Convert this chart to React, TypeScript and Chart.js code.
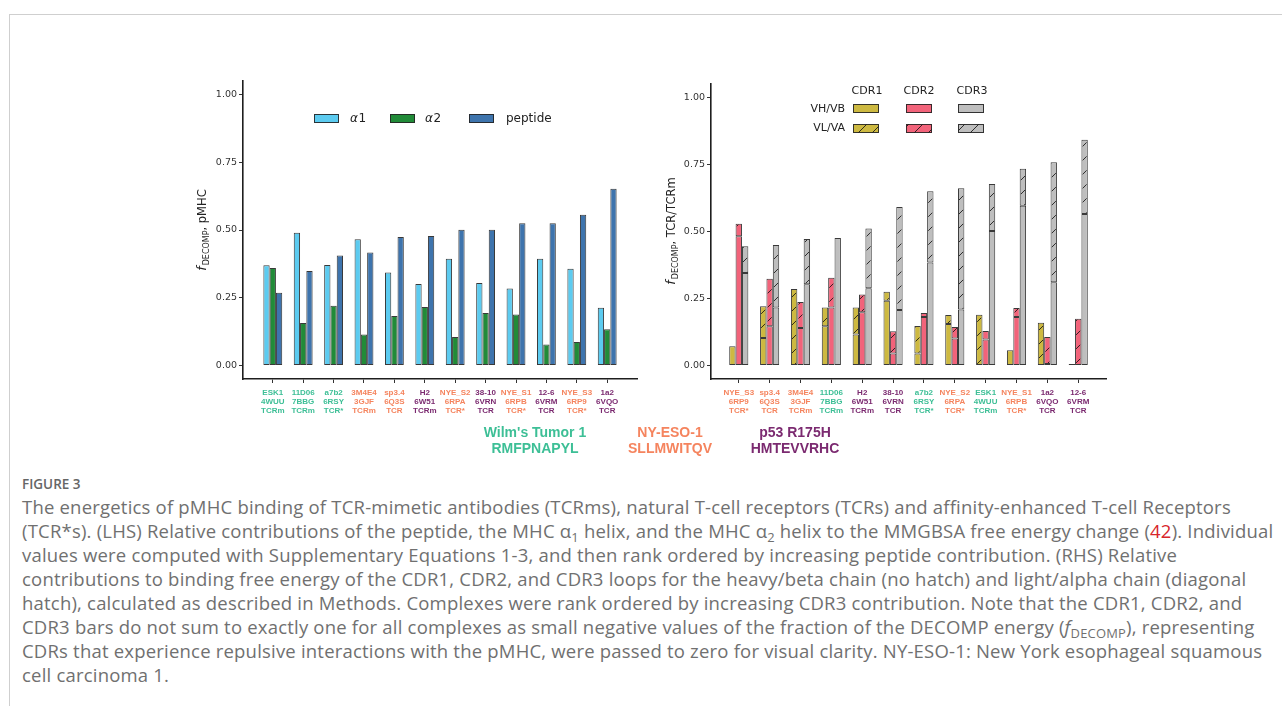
import React, { useEffect, useRef } from 'react';
import { Chart, registerables } from 'chart.js';
Chart.register(...registerables);

// ---------- data ----------
const leftNames = ['ESK1', '11D06', 'a7b2', '3M4E4', 'sp3.4', 'H2', 'NYE_S2', '38-10', 'NYE_S1', '12-6', 'NYE_S3', '1a2'];
const leftPdb = ['4WUU', '7BBG', '6RSY', '3GJF', '6Q3S', '6W51', '6RPA', '6VRN', '6RPB', '6VRM', '6RP9', '6VQO'];
const leftType = ['TCRm', 'TCRm', 'TCR*', 'TCRm', 'TCR', 'TCRm', 'TCR*', 'TCR', 'TCR*', 'TCR', 'TCR*', 'TCR'];
const leftAntigen = ['WT1', 'WT1', 'WT1', 'NY', 'NY', 'P53', 'NY', 'P53', 'NY', 'P53', 'NY', 'P53'];

const alpha1 = [0.370, 0.490, 0.371, 0.466, 0.343, 0.301, 0.394, 0.304, 0.284, 0.394, 0.357, 0.213];
const alpha2 = [0.360, 0.157, 0.220, 0.114, 0.183, 0.216, 0.105, 0.194, 0.188, 0.077, 0.087, 0.134];
const peptide = [0.268, 0.349, 0.406, 0.417, 0.474, 0.478, 0.501, 0.501, 0.525, 0.525, 0.556, 0.652];

const rightNames = ['NYE_S3', 'sp3.4', '3M4E4', '11D06', 'H2', '38-10', 'a7b2', 'NYE_S2', 'ESK1', 'NYE_S1', '1a2', '12-6'];
const rightPdb = ['6RP9', '6Q3S', '3GJF', '7BBG', '6W51', '6VRN', '6RSY', '6RPA', '4WUU', '6RPB', '6VQO', '6VRM'];
const rightType = ['TCR*', 'TCR', 'TCRm', 'TCRm', 'TCRm', 'TCR', 'TCR*', 'TCR*', 'TCRm', 'TCR*', 'TCR', 'TCR'];
const rightAntigen = ['NY', 'NY', 'NY', 'WT1', 'P53', 'P53', 'WT1', 'NY', 'WT1', 'NY', 'P53', 'P53'];

const cdr1VH = [0.072, 0.103, 0.002, 0.147, 0.116, 0.242, 0.045, 0.155, 0.000, 0.057, 0.000, 0.006];
const cdr1VL = [0.000, 0.118, 0.284, 0.070, 0.101, 0.033, 0.103, 0.034, 0.190, 0.000, 0.160, 0.000];
const cdr2VH = [0.482, 0.147, 0.140, 0.217, 0.199, 0.045, 0.181, 0.101, 0.097, 0.181, 0.006, 0.000];
const cdr2VL = [0.047, 0.177, 0.097, 0.111, 0.066, 0.083, 0.015, 0.043, 0.032, 0.034, 0.101, 0.175];
const cdr3VH = [0.345, 0.217, 0.303, 0.476, 0.288, 0.207, 0.384, 0.209, 0.502, 0.596, 0.311, 0.565];
const cdr3VL = [0.100, 0.233, 0.169, 0.000, 0.223, 0.384, 0.266, 0.452, 0.175, 0.138, 0.447, 0.277];

const yTicks = [0, 0.25, 0.5, 0.75, 1.0];

// ---------- styles ----------
const antigenColor: Record<string, string> = { WT1: '#3dbf96', NY: '#f5845e', P53: '#7b2a70' };
const C_A1 = '#5ccbf0';
const C_A2 = '#218b38';
const C_PEP = '#3e74ad';
const C_CDR1 = '#cdb941';
const C_CDR2 = '#f2637a';
const C_CDR3 = '#bebebe';
const EDGE = 'rgba(35,35,35,0.9)';
const AXFONT = '"DejaVu Sans", sans-serif';

function hatchRect(ctx: CanvasRenderingContext2D, l: number, t: number, w: number, h: number) {
  const sp = 14;
  ctx.save();
  ctx.beginPath();
  ctx.rect(l, t, w, h);
  ctx.clip();
  ctx.strokeStyle = 'rgba(20,20,20,0.95)';
  ctx.lineWidth = 0.9;
  ctx.beginPath();
  const kmin = Math.floor((l + t) / sp) - 1;
  const kmax = Math.ceil((l + w + t + h) / sp) + 1;
  for (let k = kmin; k <= kmax; k++) {
    const c = k * sp;
    ctx.moveTo(l, c - l);
    ctx.lineTo(l + w, c - l - w);
  }
  ctx.stroke();
  ctx.restore();
}

function swatch(ctx: CanvasRenderingContext2D, x: number, y: number, w: number, h: number, color: string, hatch: boolean) {
  ctx.save();
  ctx.fillStyle = color;
  ctx.fillRect(x, y, w, h);
  if (hatch) hatchRect(ctx, x, y, w, h);
  ctx.strokeStyle = EDGE;
  ctx.lineWidth = 1;
  ctx.strokeRect(x + 0.5, y + 0.5, w - 1, h - 1);
  ctx.restore();
}

function yTitle(ctx: CanvasRenderingContext2D, cx: number, cy: number, rest: string) {
  ctx.save();
  ctx.translate(cx, cy);
  ctx.rotate(-Math.PI / 2);
  ctx.fillStyle = '#222';
  ctx.textBaseline = 'alphabetic';
  const fF = `italic 12.5px ${AXFONT}`;
  const fS = `8px ${AXFONT}`;
  const fR = `11.5px ${AXFONT}`;
  ctx.font = fF; const w1 = ctx.measureText('f').width + 1;
  ctx.font = fS; const w2 = ctx.measureText('DECOMP').width;
  ctx.font = fR; const w3 = ctx.measureText(rest).width;
  let x = -(w1 + w2 + w3) / 2;
  const base = 4;
  ctx.font = fF; ctx.fillText('f', x, base); x += w1;
  ctx.font = fS; ctx.fillText('DECOMP', x, base + 3); x += w2;
  ctx.font = fR; ctx.fillText(rest, x, base);
  ctx.restore();
}

function hatchDatasets(chart: any, idx: number[]) {
  const ctx = chart.ctx as CanvasRenderingContext2D;
  for (const i of idx) {
    const meta = chart.getDatasetMeta(i);
    for (const el of meta.data) {
      const p = el.getProps(['x', 'y', 'base', 'width'], true);
      const top = Math.min(p.y, p.base);
      const h = Math.abs(p.base - p.y);
      if (h < 1) continue;
      hatchRect(ctx, p.x - p.width / 2 + 1, top + 1, p.width - 2, h - 2);
    }
  }
}

function buildAxes(labels: string[][], colors: string[], xmin: number, xmax: number, yWidth: number, xHeight: number, stackedY: boolean) {
  return {
    x: {
      type: 'linear',
      min: xmin,
      max: xmax,
      offset: false,
      afterBuildTicks: (s: any) => { s.ticks = labels.map((_, i) => ({ value: i })); },
      afterFit: (s: any) => { s.height = xHeight; },
      grid: { display: true, drawOnChartArea: false, drawTicks: true, tickLength: 4, tickColor: '#333', tickWidth: 1, offset: false },
      border: { display: true, color: '#1e1e1e', width: 1.6 },
      ticks: {
        autoSkip: false, maxRotation: 0, minRotation: 0, padding: 5,
        font: { family: '"Liberation Sans", Arial, sans-serif', size: 8, weight: 'bold', lineHeight: 1.13 },
        color: (c: any) => colors[c.index] || '#333',
        callback: (v: any) => labels[Math.round(v)] || '',
      },
    },
    y: {
      type: 'linear',
      min: -0.05,
      max: 1.05,
      stacked: stackedY,
      afterBuildTicks: (s: any) => { s.ticks = yTicks.map((v) => ({ value: v })); },
      afterFit: (s: any) => { s.width = yWidth; },
      grid: { display: true, drawOnChartArea: false, drawTicks: true, tickLength: 4, tickColor: '#333', tickWidth: 1 },
      border: { display: true, color: '#1e1e1e', width: 1.6 },
      ticks: {
        padding: 2, color: '#333',
        font: { family: AXFONT, size: 9.5 },
        callback: (v: any) => Number(v).toFixed(2),
      },
    },
  };
}

const pts = (arr: number[]) => arr.map((v, i) => ({ x: i, y: v }));

function LeftChart() {
  const ref = useRef<HTMLCanvasElement>(null);
  useEffect(() => {
    const labels = leftNames.map((n, i) => [n, leftPdb[i], leftType[i]]);
    const colors = leftAntigen.map((a) => antigenColor[a]);
    const common = { borderColor: EDGE, borderWidth: 1, borderSkipped: false, categoryPercentage: 0.62, barPercentage: 1.0 };
    const chart = new Chart(ref.current as HTMLCanvasElement, {
      type: 'bar',
      data: {
        datasets: [
          { label: 'α1', data: pts(alpha1), backgroundColor: C_A1, stack: 'a', ...common },
          { label: 'α2', data: pts(alpha2), backgroundColor: C_A2, stack: 'b', ...common },
          { label: 'peptide', data: pts(peptide), backgroundColor: C_PEP, stack: 'c', ...common },
        ],
      } as any,
      options: {
        animation: false,
        responsive: false,
        devicePixelRatio: 1,
        layout: { padding: { top: 11, right: 13, left: 0, bottom: 0 } },
        plugins: { legend: { display: false }, tooltip: { enabled: false } },
        scales: buildAxes(labels, colors, -0.98, 11.98, 63, 51, false) as any,
      },
      plugins: [{
        id: 'leftDeco',
        afterDraw(c: any) {
          const ctx = c.ctx as CanvasRenderingContext2D;
          const items = [
            { x: 134, color: C_A1, tx: 170, greek: true, text: '1' },
            { x: 210, color: C_A2, tx: 245, greek: true, text: '2' },
            { x: 289, color: C_PEP, tx: 326, greek: false, text: 'peptide' },
          ];
          for (const it of items) {
            swatch(ctx, it.x, 44, 25, 9, it.color, false);
            ctx.save();
            ctx.fillStyle = '#222';
            ctx.textBaseline = 'middle';
            let x = it.tx;
            if (it.greek) {
              ctx.font = `italic 12px ${AXFONT}`;
              ctx.fillText('α', x, 49);
              x += ctx.measureText('α').width + 0.5;
            }
            ctx.font = `12px ${AXFONT}`;
            ctx.fillText(it.text, x, 49);
            ctx.restore();
          }
          yTitle(ctx, 22, 160, ', pMHC');
        },
      }],
    } as any);
    return () => chart.destroy();
  }, []);
  return <canvas ref={ref} width={470} height={360} style={{ position: 'absolute', left: 180, top: 70 }} />;
}

function RightChart() {
  const ref = useRef<HTMLCanvasElement>(null);
  useEffect(() => {
    const labels = rightNames.map((n, i) => [n, rightPdb[i], rightType[i]]);
    const colors = rightAntigen.map((a) => antigenColor[a]);
    const common = { borderColor: EDGE, borderWidth: 1, borderSkipped: false, categoryPercentage: 0.62, barPercentage: 1.0 };
    const chart = new Chart(ref.current as HTMLCanvasElement, {
      type: 'bar',
      data: {
        datasets: [
          { label: 'CDR1 VH/VB', data: pts(cdr1VH), backgroundColor: C_CDR1, stack: 'c1', ...common },
          { label: 'CDR1 VL/VA', data: pts(cdr1VL), backgroundColor: C_CDR1, stack: 'c1', ...common },
          { label: 'CDR2 VH/VB', data: pts(cdr2VH), backgroundColor: C_CDR2, stack: 'c2', ...common },
          { label: 'CDR2 VL/VA', data: pts(cdr2VL), backgroundColor: C_CDR2, stack: 'c2', ...common },
          { label: 'CDR3 VH/VB', data: pts(cdr3VH), backgroundColor: C_CDR3, stack: 'c3', ...common },
          { label: 'CDR3 VL/VA', data: pts(cdr3VL), backgroundColor: C_CDR3, stack: 'c3', ...common },
        ],
      } as any,
      options: {
        animation: false,
        responsive: false,
        devicePixelRatio: 1,
        layout: { padding: { top: 14, right: 9, left: 0, bottom: 0 } },
        plugins: { legend: { display: false }, tooltip: { enabled: false } },
        scales: buildAxes(labels, colors, -0.9, 11.9, 56, 51, true) as any,
      },
      plugins: [{
        id: 'rightDeco',
        afterDatasetsDraw(c: any) { hatchDatasets(c, [1, 3, 5]); },
        afterDraw(c: any) {
          const ctx = c.ctx as CanvasRenderingContext2D;
          ctx.save();
          ctx.fillStyle = '#222';
          ctx.textBaseline = 'middle';
          ctx.font = `11px ${AXFONT}`;
          ctx.textAlign = 'center';
          const cols = [{ cx: 212, x: 198, color: C_CDR1, name: 'CDR1' }, { cx: 264, x: 251, color: C_CDR2, name: 'CDR2' }, { cx: 317, x: 303, color: C_CDR3, name: 'CDR3' }];
          for (const col of cols) ctx.fillText(col.name, col.cx, 21);
          ctx.textAlign = 'right';
          ctx.fillText('VH/VB', 190, 39);
          ctx.fillText('VL/VA', 190, 58);
          ctx.restore();
          for (const col of cols) {
            swatch(ctx, col.x, 34, 26, 9, col.color, false);
            swatch(ctx, col.x, 54, 26, 9, col.color, true);
          }
          yTitle(ctx, 16, 161, ', TCR/TCRm');
        },
      }],
    } as any);
    return () => chart.destroy();
  }, []);
  return <canvas ref={ref} width={460} height={360} style={{ position: 'absolute', left: 655, top: 70 }} />;
}

const groupLabels = [
  { cx: 535, color: antigenColor.WT1, l1: "Wilm's Tumor 1", l2: 'RMFPNAPYL' },
  { cx: 670, color: antigenColor.NY, l1: 'NY-ESO-1', l2: 'SLLMWITQV' },
  { cx: 795, color: antigenColor.P53, l1: 'p53 R175H', l2: 'HMTEVVRHC' },
];

const sub = { fontSize: '70%', verticalAlign: '-0.3em', lineHeight: 0 } as React.CSSProperties;

export default function App() {
  const capStyle: React.CSSProperties = { position: 'absolute', left: 22, whiteSpace: 'nowrap', height: 24, lineHeight: '24px' };
  const lines: React.ReactNode[] = [
    <>The energetics of pMHC binding of TCR-mimetic antibodies (TCRms), natural T-cell receptors (TCRs) and affinity-enhanced T-cell Receptors</>,
    <>(TCR*s). (LHS) Relative contributions of the peptide, the MHC α<span style={sub}>1</span> helix, and the MHC α<span style={sub}>2</span> helix to the MMGBSA free energy change (<span style={{ color: '#d8262b' }}>42</span>). Individual</>,
    <>values were computed with Supplementary Equations 1-3, and then rank ordered by increasing peptide contribution. (RHS) Relative</>,
    <>contributions to binding free energy of the CDR1, CDR2, and CDR3 loops for the heavy/beta chain (no hatch) and light/alpha chain (diagonal</>,
    <>hatch), calculated as described in Methods. Complexes were rank ordered by increasing CDR3 contribution. Note that the CDR1, CDR2, and</>,
    <>CDR3 bars do not sum to exactly one for all complexes as small negative values of the fraction of the DECOMP energy (<i>f</i><span style={sub}>DECOMP</span>), representing</>,
    <>CDRs that experience repulsive interactions with the pMHC, were passed to zero for visual clarity. NY-ESO-1: New York esophageal squamous</>,
    <>cell carcinoma 1.</>,
  ];
  return (
    <div style={{ position: 'fixed', left: 0, top: 0, width: 1282, height: 706, background: '#fff', overflow: 'hidden' }}>
      <div style={{ position: 'absolute', left: 9, top: 14, width: 1300, height: 720, borderTop: '1.5px solid #cfcfcf', borderLeft: '1.5px solid #cfcfcf' }} />
      <LeftChart />
      <RightChart />
      {groupLabels.map((g) => (
        <div key={g.l2} style={{ position: 'absolute', left: g.cx - 100, width: 200, top: 424, textAlign: 'center', color: g.color, fontFamily: '"Liberation Sans", Arial, sans-serif', fontWeight: 'bold', fontSize: 14, lineHeight: '16px' }}>
          <div>{g.l1}</div>
          <div>{g.l2}</div>
        </div>
      ))}
      <div style={{ position: 'absolute', left: 22, top: 474, fontFamily: '"Open Sans", sans-serif', fontWeight: 600, fontSize: 13.5, color: '#666', lineHeight: '20px' }}>FIGURE 3</div>
      <div style={{ fontFamily: '"Open Sans", sans-serif', fontSize: 18.5, letterSpacing: '0.2px', color: '#707070' }}>
        {lines.map((ln, i) => (
          <div key={i} style={{ ...capStyle, top: 495 + i * 24 }}>{ln}</div>
        ))}
      </div>
    </div>
  );
}
